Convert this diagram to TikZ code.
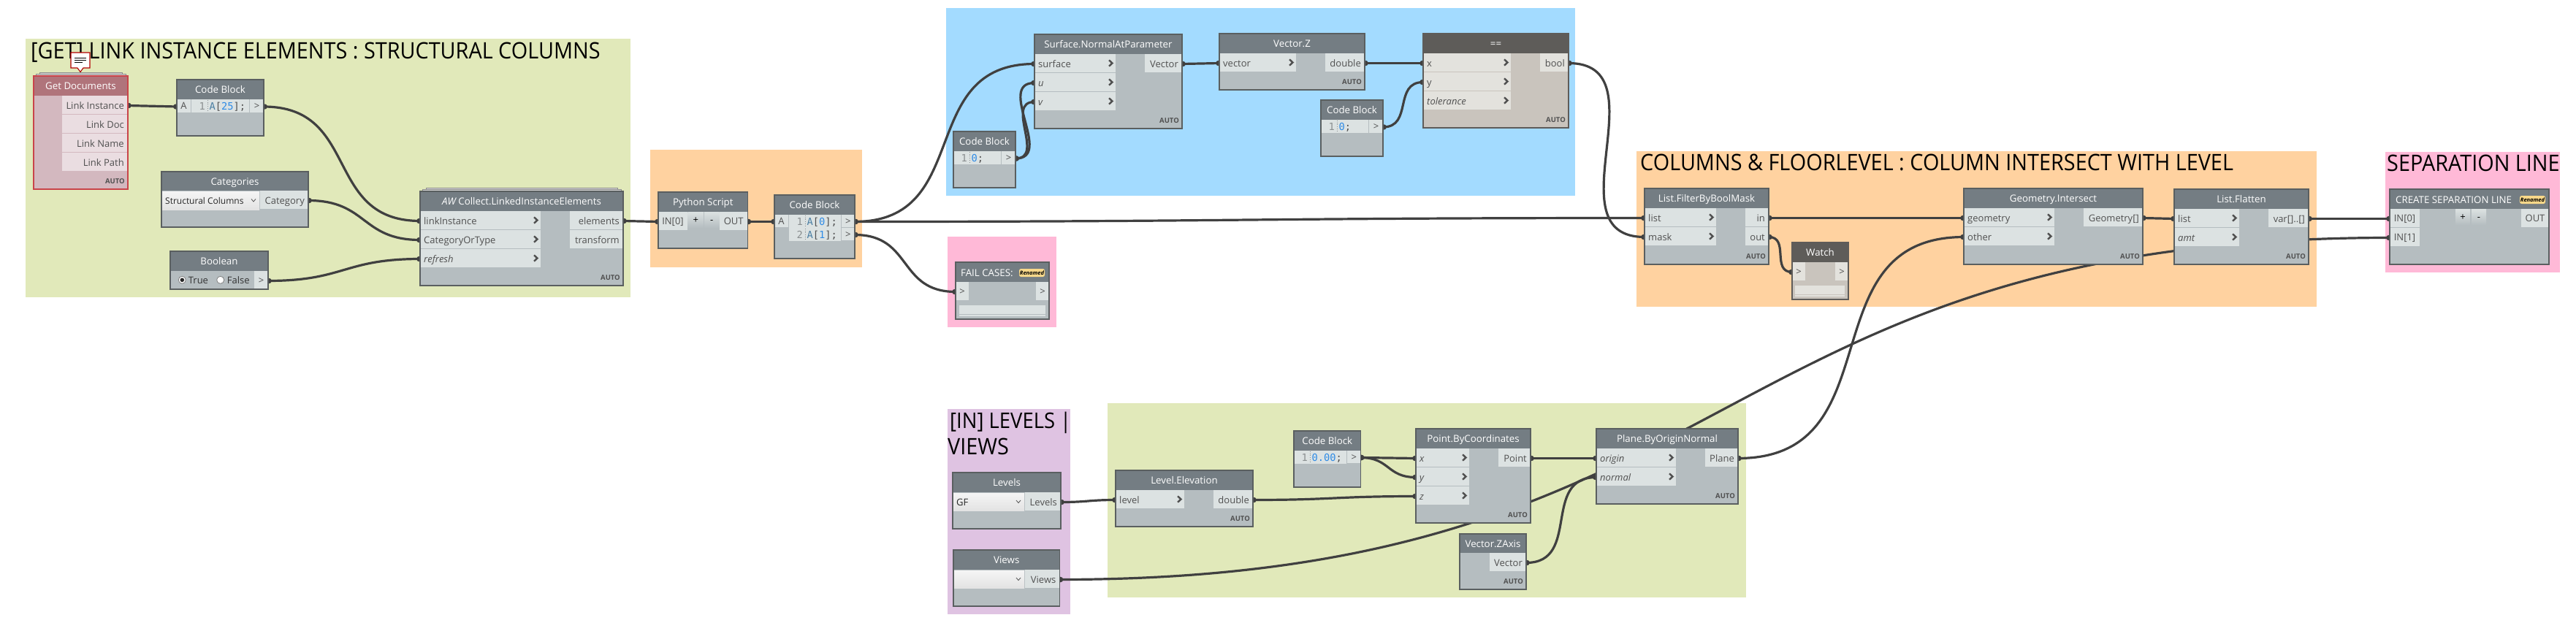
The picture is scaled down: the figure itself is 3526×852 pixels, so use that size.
\documentclass[tikz,border=0pt]{standalone}
\usepackage{fontspec}
\setmainfont{Open Sans}
\newfontfamily\titlefont[FakeStretch=0.93]{Open Sans}
\newfontfamily\codefont{DejaVu Sans Mono}
\usetikzlibrary{calc}
\pgfdeclarelayer{grp}\pgfdeclarelayer{wires}
\pgfsetlayers{grp,wires,main}
\definecolor{gGreen}{HTML}{E1E9BA}
\definecolor{gOrange}{HTML}{FFD2A0}
\definecolor{gBlue}{HTML}{A3DBFF}
\definecolor{gPink}{HTML}{FFB9D7}
\definecolor{gPurple}{HTML}{DFC3E2}
\definecolor{wirec}{HTML}{404040}
\definecolor{numc}{HTML}{2E8BE6}
\definecolor{varc}{HTML}{4B7FA3}
\definecolor{lnc}{HTML}{8A8F90}
\definecolor{txtc}{HTML}{505050}
\definecolor{badgec}{HTML}{F8D88A}
\newcommand\palN{\definecolor{cbody}{HTML}{B5BDC0}\definecolor{chead}{HTML}{747D83}\definecolor{cport}{HTML}{DCE2E2}\definecolor{cedge}{HTML}{5A5F60}}
\newcommand\palS{\definecolor{cbody}{HTML}{D3B8BF}\definecolor{chead}{HTML}{B0747B}\definecolor{cport}{HTML}{EADDE1}\definecolor{cedge}{HTML}{C9444A}}
\newcommand\palW{\definecolor{cbody}{HTML}{C9C4BD}\definecolor{chead}{HTML}{5E5C59}\definecolor{cport}{HTML}{E3E2DD}\definecolor{cedge}{HTML}{5E5C59}}
\palN
\tikzset{
 flat/.style={rectangle,inner sep=0pt,outer sep=0pt},
 grpbox/.style={flat},
 gtitle/.style={anchor=base west,inner sep=0pt,font=\titlefont\fontsize{31}{36}\selectfont,text=black},
 bodybox/.style={flat,fill=cbody},
 headbox/.style={flat,fill=chead},
 headtext/.style={anchor=base,inner sep=0pt,text=white,font=\fontsize{13.3}{15}\selectfont},
 portbox/.style={flat,fill=cport},
 porttext/.style={inner sep=0pt,text=txtc,font=\fontsize{13}{15}\selectfont},
 autotext/.style={anchor=base east,inner sep=0pt,text=txtc,font=\bfseries\fontsize{9.5}{11}\selectfont},
 codetext/.style={anchor=base west,inner sep=0pt,font=\codefont\fontsize{13.7}{16}\selectfont,text=txtc},
 wire/.style={draw=wirec,line width=3.2pt},
 pin/.style={fill=wirec},
 chev/.style={draw=txtc,line width=2.4pt},
 dropbox/.style={flat,top color=white!96!black,bottom color=white!89!black},
 btnbox/.style={flat,top color=cport,bottom color=cbody},
 badge/.style={rectangle,rounded corners=2.5pt,fill=badgec,inner sep=0pt,outer sep=0pt},
 badgetext/.style={inner sep=0pt,text=black,font=\bfseries\itshape\fontsize{7.5}{9}\selectfont},
 stackbox/.style={flat,fill=white!85!black,draw=black!45,line width=1pt},
}
% generic rectangle as a named node
\newcommand\bx[6]{\pgfmathsetmacro\bw{#5-#3}\pgfmathsetmacro\bh{#6-#4}%
 \node[#1,minimum width=\bw pt,minimum height=\bh pt,anchor=north west] (#2) at (#3,#4) {};}
\newcommand\grp[6]{\begin{pgfonlayer}{grp}\bx{grpbox,fill=#2}{#1}{#3}{#4}{#5}{#6}\end{pgfonlayer}}
\newcommand\gtl[4]{\begin{pgfonlayer}{grp}\node[gtitle] (#1) at (#2,#3) {#4};\end{pgfonlayer}}
% node: name x1 y1 x2 y2 hdrbottom title
\newcommand\dyn[7]{\bx{bodybox}{#1}{#2}{#3}{#4}{#5}\bx{headbox}{#1-h}{#2}{#3}{#4}{#6}%
 \node[headtext] (#1-t) at ($(#1-h.center)+(0,5.2)$) {#7};}
% the border goes on last, over the ports
\newcommand\edge[1]{\draw[cedge,line width=1.2pt] (#1.north west) rectangle (#1.south east);}
\newcommand\autol[1]{\node[autotext] (#1-a) at ($(#1.south east)+(-4,-8)$) {AUTO};\edge{#1}}
% input row: name x1 x2 y text
\newcommand\inp[5]{\pgfmathsetmacro\ybot{#4+25}\bx{portbox}{#1}{#2}{#4}{#3}{\ybot}%
 \node[porttext,anchor=base west] (#1-t) at ($(#1.west)+(5,5.6)$) {#5};
 \draw[chev] ($(#1.east)+(-9,-4.2)$) -- ($(#1.east)+(-4.5,0)$) -- ($(#1.east)+(-9,4.2)$);}
\newcommand\outp[5]{\pgfmathsetmacro\ybot{#4+25}\bx{portbox}{#1}{#2}{#4}{#3}{\ybot}%
 \node[porttext,anchor=base east] (#1-t) at ($(#1.east)+(-5,5.6)$) {#5};}
% centred small port: name x1 x2 y1 y2 text
\newcommand\smp[6]{\bx{portbox}{#1}{#2}{#4}{#3}{#5}%
 \node[porttext,anchor=base] (#1-t) at ($(#1.center)+(0,4.6)$) {#6};}
% code row: name x1 x2 y lineno code
\newcommand\cdr[6]{\pgfmathsetmacro\ybot{#4+18}\bx{portbox}{#1}{#2}{#4}{#3}{\ybot}%
 \node[codetext,text=lnc,anchor=base east] (#1-n) at ($(#1.west)+(19,5)$) {#5};
 \draw[lnc,line width=.7pt,dotted] ($(#1.north west)+(22,1)$) -- ($(#1.south west)+(22,-1)$);
 \node[codetext] (#1-c) at ($(#1.west)+(24.5,5)$) {#6};}
\newcommand\stk[3]{\pgfmathsetmacro\xa{#1+8}\pgfmathsetmacro\xb{#3-8}\pgfmathsetmacro\xc{#1+3}\pgfmathsetmacro\xd{#3-3}%
 \pgfmathsetmacro\ya{#2-5}\pgfmathsetmacro\yb{#2-3}%
 \draw[stackbox] (\xa,\ya) rectangle (\xb,#2); \draw[stackbox] (\xc,\yb) rectangle (\xd,#2);}
% wire (Dynamo bezier: control distance = half the chord)
\newcommand\wire[2]{\begin{pgfonlayer}{wires}
 \draw[wire] let \p1=($(#1.east)+(0,1)$),\p2=($(#2.west)+(0,1)$),\n1={0.5*veclen(\x2-\x1,\y2-\y1)} in
   (\p1) .. controls ($(\p1)+(\n1,0)$) and ($(\p2)+(-\n1,0)$) .. (\p2);
 \fill[pin] ($(#1.east)+(0,1)$) ellipse [x radius=5,y radius=4];
 \fill[pin] ($(#2.west)+(0,1)$) ellipse [x radius=5,y radius=4];
 \end{pgfonlayer}}
\newcommand\Num[1]{\textcolor{numc}{#1}}
\newcommand\Var[1]{\textcolor{varc}{#1}}
\newcommand\radio[3]{\draw[black!50,fill=white,line width=.8pt] (#2,#3) circle (5);\ifnum#1=1 \fill[black!85] (#2,#3) circle (2.8);\fi}
\begin{document}
\begin{tikzpicture}[x=1pt,y=-1pt]
\useasboundingbox (0,0) rectangle (3526,852);
% groups
\grp{g1}{gGreen}{35}{53}{863}{407}
\grp{g2}{gOrange}{890}{205}{1180}{366}
\grp{g3}{gBlue}{1295}{11}{2156}{268}
\grp{g4}{gPink}{1297}{324}{1446}{448}
\grp{g5}{gOrange}{2240}{207}{3171}{420}
\grp{g6}{gPink}{3265}{208}{3504}{373}
\grp{g7}{gPurple}{1297}{560}{1465}{841}
\grp{g8}{gGreen}{1516}{552}{2390}{818}
\gtl{t1}{42}{80}{[GET] LINK INSTANCE ELEMENTS : STRUCTURAL COLUMNS}
\gtl{t5}{2245}{233}{COLUMNS \& FLOORLEVEL : COLUMN INTERSECT WITH LEVEL}
\gtl{t6}{3267}{234}{SEPARATION LINE}
\begin{pgfonlayer}{grp}
\node[gtitle,font=\titlefont\fontsize{29.5}{34}\selectfont] (t7a) at (1300,586) {[IN] LEVELS |};
\end{pgfonlayer}
\gtl{t7b}{1297}{622}{VIEWS}
% Get Documents
\stk{46}{104}{175}
\palS
\dyn{gd}{46}{104}{175}{259}{131}{Get Documents}
\outp{gdA}{85}{175}{131}{Link Instance}
\outp{gdB}{85}{175}{157}{Link Doc}
\outp{gdC}{85}{175}{183}{Link Name}
\outp{gdD}{85}{175}{209}{Link Path}
\autol{gd}
\palN
% comment icon
\fill[white,draw=red!70!black,line width=1.1pt] (97,72) -- (123,72) -- (123,93) -- (114,93) -- (110,98.5) -- (106,93) -- (97,93) -- cycle;
\draw[black,line width=1pt] (102,79) -- (118,79) (102,82) -- (118,82) (102,85) -- (113,85);
% Code Block 1
\dyn{cb1}{242}{109}{361}{186}{136}{Code Block}
\smp{cb1a}{242}{261}{136}{154}{A}
\cdr{cb1c}{262}{341}{136}{1}{\Var{A}[\Num{25}];}
\smp{cb1o}{342}{361}{136}{154}{>}
\edge{cb1}
% Categories
\dyn{cat}{221}{235}{422}{311}{261}{Categories}
\bx{dropbox}{catd}{221}{262}{355}{287}
\node[porttext,text=black!85,font=\fontsize{12}{14}\selectfont,anchor=base west] (catd-t) at ($(catd.west)+(5,4.5)$) {Structural Columns};
\draw[txtc,line width=.8pt] ($(catd.east)+(-11,-2)$) -- ($(catd.east)+(-8,1.5)$) -- ($(catd.east)+(-5,-2)$);
\outp{cato}{356}{422}{261}{Category}
\edge{cat}
% Boolean
\dyn{bo}{233}{344}{367}{396}{371}{Boolean}
\smp{boo}{348}{367}{371}{396}{>}
\radio{1}{249.3}{383.3}
\node[porttext,text=black!80,anchor=base west] (bt) at (257.7,388.5) {True};
\radio{0}{301.7}{383.3}
\node[porttext,text=black!80,anchor=base west] (bf) at (310.7,388.5) {False};
\edge{bo}
% AW Collect
\stk{575}{262}{853}
\dyn{aw}{575}{262}{853}{391}{289}{{\itshape AW} Collect.LinkedInstanceElements}
\inp{awa}{575}{740}{289}{linkInstance}
\inp{awb}{575}{740}{315}{CategoryOrType}
\inp{awc}{575}{740}{341}{\itshape refresh}
\outp{awe}{780}{853}{289}{elements}
\outp{awf}{780}{853}{315}{transform}
\autol{aw}
% Python Script
\dyn{py}{901}{263}{1023.5}{340}{290}{Python Script}
\smp{pyi}{901}{941}{290}{315}{IN[0]}
\bx{btnbox}{pyp}{941.5}{290}{963}{312}
\node[porttext,text=black,anchor=base] (pyp-t) at ($(pyp.center)+(0,4)$) {+};
\bx{btnbox}{pym}{964}{290}{984.5}{312}
\node[porttext,text=black,anchor=base] (pym-t) at ($(pym.center)+(0,4)$) {-};
\smp{pyo}{985}{1023.5}{290}{315}{OUT}
\edge{py}
% Code Block 2
\dyn{cb2}{1060}{267}{1170}{354}{294}{Code Block}
\smp{cb2a}{1060}{1079}{294}{311}{A}
\cdr{cb2c}{1080}{1150.5}{294}{1}{\Var{A}[\Num{0}];}
\cdr{cb2d}{1080}{1150.5}{312}{2}{\Var{A}[\Num{1}];}
\smp{cb2o}{1151.5}{1170}{294}{311}{>}
\smp{cb2p}{1151.5}{1170}{312}{329}{>}
\edge{cb2}
% Surface.NormalAtParameter
\dyn{sf}{1416}{47}{1618}{176}{74}{Surface.NormalAtParameter}
\inp{sfa}{1416}{1527}{74}{surface}
\inp{sfb}{1416}{1527}{100}{\itshape u}
\inp{sfc}{1416}{1527}{126}{\itshape v}
\outp{sfo}{1567}{1618}{74}{Vector}
\autol{sf}
% Code Block 3
\dyn{cb3}{1305}{180}{1390}{257}{207}{Code Block}
\cdr{cb3c}{1305}{1370}{207}{1}{\Num{0};}
\smp{cb3o}{1371}{1390}{207}{225}{>}
\edge{cb3}
% Vector.Z
\dyn{vz}{1669}{46}{1868}{123}{73}{Vector.Z}
\inp{vza}{1669}{1774}{73}{vector}
\outp{vzo}{1814}{1868}{73}{double}
\autol{vz}
% Code Block 5
\dyn{cb5}{1808}{137}{1893}{214}{164}{Code Block}
\cdr{cb5c}{1808}{1873}{164}{1}{\Num{0};}
\smp{cb5o}{1874}{1893}{164}{182}{>}
\edge{cb5}
% ==
\palW
\dyn{eq}{1948}{46}{2147}{175}{73}{==}
\inp{eqa}{1948}{2068}{73}{x}
\inp{eqb}{1948}{2068}{99}{y}
\inp{eqc}{1948}{2068}{125}{\itshape tolerance}
\outp{eqo}{2108}{2147}{73}{bool}
\autol{eq}
\palN
% Fail cases
\dyn{fc}{1308}{359}{1436}{437}{386}{}
\node[headtext,anchor=base west] (fc-l) at (1315,378) {FAIL CASES:};
\node[badge,minimum width=35pt,minimum height=11pt,anchor=north west] (fc-b) at (1395,368) {};
\node[badgetext] (fc-bt) at (fc-b.center) {Renamed};
\smp{fca}{1308}{1326}{386}{411}{>}
\smp{fcb}{1418}{1436}{386}{411}{>}
\bx{portbox}{fcc}{1313}{418}{1431}{430}
\bx{portbox}{fcd}{1313}{431}{1431}{433}
\edge{fc}
% FilterByBoolMask
\dyn{fb}{2251}{258}{2421}{362}{285}{List.FilterByBoolMask}
\inp{fba}{2251}{2349}{285}{list}
\inp{fbb}{2251}{2349}{311}{mask}
\outp{fbi}{2389}{2421}{285}{in}
\outp{fbo}{2389}{2421}{311}{out}
\autol{fb}
% Watch
\palW
\dyn{wa}{2453}{332}{2530}{410}{359}{Watch}
\smp{waa}{2453}{2471}{359}{384}{>}
\smp{wab}{2512}{2530}{359}{384}{>}
\bx{portbox}{wac}{2457}{391}{2525}{403}
\bx{portbox}{wad}{2457}{404}{2525}{406}
\edge{wa}
\palN
% Geometry.Intersect
\dyn{gi}{2688}{258}{2933}{362}{285}{Geometry.Intersect}
\inp{gia}{2688}{2812}{285}{geometry}
\inp{gib}{2688}{2812}{311}{other}
\outp{gio}{2852}{2933}{285}{Geometry[]}
\autol{gi}
% List.Flatten
\dyn{lf}{2976}{259}{3160}{362}{286}{List.Flatten}
\inp{lfa}{2976}{3065}{286}{list}
\inp{lfb}{2976}{3065}{312}{\itshape amt}
\outp{lfo}{3105}{3160}{286}{var[]..[]}
\autol{lf}
% Create separation line
\dyn{sl}{3271}{259}{3489}{362}{286}{}
\node[headtext,anchor=base west] (sl-l) at (3279,278) {CREATE SEPARATION LINE};
\node[badge,minimum width=35pt,minimum height=11pt,anchor=north west] (sl-b) at (3449,268) {};
\node[badgetext] (sl-bt) at (sl-b.center) {Renamed};
\smp{sla}{3271}{3312}{286}{311}{IN[0]}
\smp{slb}{3271}{3312}{312}{337}{IN[1]}
\bx{btnbox}{slp}{3361}{286}{3381}{308}
\node[porttext,text=black,anchor=base] (slp-t) at ($(slp.center)+(0,4)$) {+};
\bx{btnbox}{slm}{3383}{286}{3403}{308}
\node[porttext,text=black,anchor=base] (slm-t) at ($(slm.center)+(0,4)$) {-};
\smp{slo}{3451}{3489}{286}{311}{OUT}
\edge{sl}
% Levels
\dyn{lv}{1304}{647}{1452}{724}{674}{Levels}
\bx{dropbox}{lvd}{1304}{675}{1402}{699}
\node[porttext,text=black!85,anchor=base west] (lvd-t) at ($(lvd.west)+(5,5)$) {GF};
\draw[txtc,line width=.8pt] ($(lvd.east)+(-11,-2)$) -- ($(lvd.east)+(-8,1.5)$) -- ($(lvd.east)+(-5,-2)$);
\outp{lvo}{1403}{1452}{674}{Levels}
\edge{lv}
% Views
\dyn{vw}{1305}{753}{1450.5}{830}{780}{Views}
\bx{dropbox}{vwd}{1305}{781}{1402}{805}
\draw[txtc,line width=.8pt] ($(vwd.east)+(-11,-2)$) -- ($(vwd.east)+(-8,1.5)$) -- ($(vwd.east)+(-5,-2)$);
\outp{vwo}{1403}{1450.5}{780}{Views}
\edge{vw}
% Level.Elevation
\dyn{le}{1527}{644}{1715}{721}{671}{Level.Elevation}
\inp{lea}{1527}{1621}{671}{level}
\outp{leo}{1661}{1715}{671}{double}
\autol{le}
% Code Block 4
\dyn{cb4}{1771}{590}{1862.5}{667}{617}{Code Block}
\cdr{cb4c}{1771}{1843}{617}{1}{\Num{0.00};}
\smp{cb4o}{1844}{1862.5}{617}{634}{>}
\edge{cb4}
% Point.ByCoordinates
\dyn{pt}{1938}{587}{2095}{716}{614}{Point.ByCoordinates}
\inp{pta}{1938}{2011}{614}{\itshape x}
\inp{ptb}{1938}{2011}{640}{\itshape y}
\inp{ptc}{1938}{2011}{666}{\itshape z}
\outp{pto}{2051}{2095}{614}{Point}
\autol{pt}
% Vector.ZAxis
\dyn{za}{1998}{731}{2089}{807}{757}{Vector.ZAxis}
\outp{zao}{2039}{2089}{757}{Vector}
\autol{za}
% Plane.ByOriginNormal
\dyn{pl}{2185}{587}{2379}{690}{614}{Plane.ByOriginNormal}
\inp{pla}{2185}{2294}{614}{\itshape origin}
\inp{plb}{2185}{2294}{640}{\itshape normal}
\outp{plo}{2334}{2379}{614}{Plane}
\autol{pl}
% wires
\wire{gdA}{cb1a}
\wire{cb1o}{awa}
\wire{cato}{awb}
\wire{boo}{awc}
\wire{awe}{pyi}
\wire{pyo}{cb2a}
\wire{cb2o}{sfa}
\wire{cb2o}{fba}
\wire{cb2p}{fca}
\wire{cb3o}{sfb}
\wire{cb3o}{sfc}
\wire{sfo}{vza}
\wire{vzo}{eqa}
\wire{cb5o}{eqb}
\wire{eqo}{fbb}
\wire{fbi}{gia}
\wire{fbo}{waa}
\wire{gio}{lfa}
\wire{lfo}{sla}
\wire{lvo}{lea}
\wire{leo}{ptc}
\wire{cb4o}{pta}
\wire{cb4o}{ptb}
\wire{vwo}{slb}
\wire{pto}{pla}
\wire{zao}{plb}
\wire{plo}{gib}
\end{tikzpicture}
\end{document}
